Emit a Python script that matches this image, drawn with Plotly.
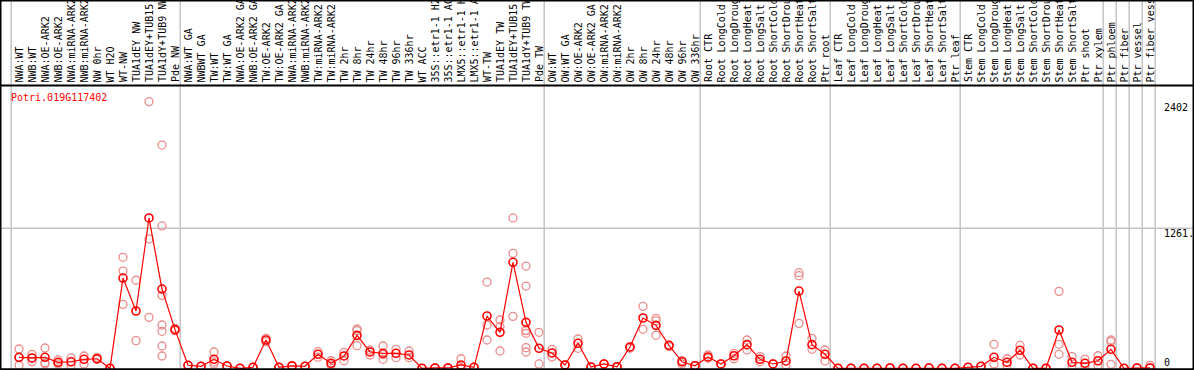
import plotly.graph_objects as go

W, H = 1194, 370

labels = [
    "NWA:WT", "NWB:WT", "NWA:OE-ARK2", "NWB:OE-ARK2", "NWA:miRNA-ARK2", "NWB:miRNA-ARK2",
    "NW 0hr", "WT H2O", "WT-NW", "TUA1dEY NW", "TUA1dEY+TUB15 NW", "TUA1dY+TUB9 NW", "Pde NW",
    "NWA:WT GA", "NWBWT GA", "TW:WT", "TW:WT GA", "NWA:OE-ARK2 GA", "NWB:OE-ARK2 GA",
    "TW:OE-ARK2", "TW:OE-ARK2 GA", "NWA:miRNA-ARK2", "NWB:miRNA-ARK2", "TW:miRNA-ARK2",
    "TW:miRNA-ARK2", "TW 2hr", "TW 8hr", "TW 24hr", "TW 48hr", "TW 96hr", "TW 336hr",
    "WT ACC", "35S::etr1-1 H2O", "35S::etr1-1 ACC", "LMX5::etr1-1 H2O", "LMX5::etr1-1 ACC",
    "WT-TW", "TUA1dEY TW", "TUA1dEY+TUB15 TW", "TUA1dY+TUB9 TW", "Pde TW",
    "OW:WT", "OW:WT GA", "OW:OE-ARK2", "OW:OE-ARK2 GA", "OW:miRNA-ARK2", "OW:miRNA-ARK2",
    "OW 2hr", "OW 8hr", "OW 24hr", "OW 48hr", "OW 96hr", "OW 336hr",
    "Root CTR", "Root LongCold", "Root LongDrought", "Root LongHeat", "Root LongSalt",
    "Root ShortCold", "Root ShortDrought", "Root ShortHeat", "Root ShortSalt", "Ptr root",
    "Leaf CTR", "Leaf LongCold", "Leaf LongDrought", "Leaf LongHeat", "Leaf LongSalt",
    "Leaf ShortCold", "Leaf ShortDrought", "Leaf ShortHeat", "Leaf ShortSalt", "Ptr leaf",
    "Stem CTR", "Stem LongCold", "Stem LongDrought", "Stem LongHeat", "Stem LongSalt",
    "Stem ShortCold", "Stem ShortDrought", "Stem ShortHeat", "Stem ShortSalt",
    "Ptr shoot", "Ptr xylem", "Ptr phloem", "Ptr fiber", "Ptr vessel", "Ptr fiber vessel",
]

means = [
    99, 93, 99, 54, 59, 81, 86, 0, 813, 516, 1354, 714, 348,
    27, 18, 81, 21, 0, 9, 255, 9, 21, 18, 126, 45, 111, 297, 147, 135, 135, 120,
    0, 3, 3, 30, 9, 471, 324, 955, 414, 180,
    138, 30, 225, 12, 39, 14, 192, 453, 387, 207, 59, 23,
    102, 39, 113, 213, 81, 39, 66, 696, 213, 126,
    0, 0, 0, 0, 3, 0, 0, 3, 0, 0,
    9, 18, 99, 54, 162, 0, 0, 345, 54, 45,
    68, 171, 0, 3, 3,
]

replicates = [
    [174, 27, 96], [59, 93, 126], [183, 50, 39], [75, 39], [93, 27], [111, 39], [99, 81],
    [0, 0], [1000, 876, 576], [793, 249], [2402, 1165, 459],
    [2011, 1282, 657, 390, 333, 201, 111], [339, 360],
    [27, 27], [18, 18], [147, 39, 57], [21, 21], [0, 0], [9, 9], [270, 240], [9, 9],
    [21, 27], [18, 18], [150, 100], [68, 30], [144, 68], [354, 339, 204], [165, 120],
    [201, 81, 123], [171, 96], [156, 96],
    [0, 0], [3, 3], [3, 3], [86, 0, 5], [9, 9], [777, 390, 255], [435, 375, 156],
    [1354, 1036, 468], [921, 741, 342, 339, 315, 186, 147], [324, 39],
    [171, 102], [30, 30], [264, 180], [12, 12], [39, 39], [14, 14], [192, 180],
    [558, 351], [450, 429, 297], [207, 195], [39, 70], [23, 23],
    [120, 90], [39, 39], [135, 86], [255, 165], [105, 59], [39, 39], [111, 30],
    [861, 834, 405], [270, 171], [165, 66],
    [0, 0], [0, 0], [0, 0], [0, 0], [3, 3], [0, 0], [0, 0], [3, 3], [0, 0], [0, 0],
    [9, 9], [18, 18], [216, 39], [86, 30], [207, 120], [0, 0], [0, 0],
    [693, 216, 126], [105, 14], [81, 18],
    [113, 27], [255, 240, 36], [0, 0], [3, 3], [27, 3],
]

group_last = [-1, 12, 40, 52, 62, 72, 83, 84, 85, 86, 87]

gene = "Potri.019G117402"
ytick_vals = [2402, 1261, 0]
ytick_text = ["2402", "1261.", "0"]
ytick_anchor = ["top", "top", "bottom"]
ytick_shift = [2, 2, -2]

# pixel geometry
X0, DX = 19.0, 13.0          # pixel x of first column, spacing
Y0PX, UNIT_PER_PX = 368.3, 1261 / 140.0
xr = [(0 - X0) / DX, (W - X0) / DX]
yr = [(Y0PX - H) * UNIT_PER_PX, Y0PX * UNIT_PER_PX]

def py(p):  # pixel-from-top -> paper y
    return 1 - p / H

def px(p):
    return p / W

xs = list(range(len(labels)))
rx, ry = [], []
for i, vals in enumerate(replicates):
    for v in vals:
        rx.append(i)
        ry.append(v)

fig = go.Figure()
fig.add_trace(go.Scatter(
    x=rx, y=ry, mode="markers", hoverinfo="skip",
    marker=dict(symbol="circle-open", size=8, color="#ec8c8c", line=dict(width=1.3, color="#ec8c8c")),
))
fig.add_trace(go.Scatter(
    x=xs, y=means, mode="lines+markers",
    line=dict(color="#ff0000", width=1.2),
    marker=dict(symbol="circle-open", size=8, color="#ff0000", line=dict(width=1.6, color="#ff0000")),
))

shapes = []
for g in group_last:
    shapes.append(dict(type="line", xref="x", yref="paper", x0=g + 0.4, x1=g + 0.4, y0=0, y1=1,
                       line=dict(color="#c4c4c4", width=1.5), layer="below"))
shapes.append(dict(type="line", xref="paper", yref="y", x0=0, x1=1, y0=1261, y1=1261,
                   line=dict(color="#c4c4c4", width=1.5), layer="below"))
black = dict(color="#000000", width=2)
shapes += [
    dict(type="line", xref="paper", yref="paper", x0=0, x1=1, y0=py(0.5), y1=py(0.5), line=black),
    dict(type="line", xref="paper", yref="paper", x0=0, x1=1, y0=py(85.5), y1=py(85.5), line=black),
    dict(type="line", xref="paper", yref="paper", x0=0, x1=1, y0=py(369.3), y1=py(369.3), line=black),
    dict(type="line", xref="paper", yref="paper", x0=px(0.5), x1=px(0.5), y0=0, y1=1, line=black),
    dict(type="line", xref="paper", yref="paper", x0=px(1193.5), x1=px(1193.5), y0=0, y1=1, line=black),
]

mono = "DejaVu Sans Mono"
ann = []
for i, lab in enumerate(labels):
    ann.append(dict(x=i, xref="x", y=py(84.5), yref="paper", text=lab, showarrow=False,
                    textangle=-90, xanchor="center", yanchor="bottom",
                    font=dict(family=mono, size=10, color="#000000")))
ann.append(dict(x=px(9), xref="paper", y=py(97), yref="paper", text=gene, showarrow=False,
                xanchor="left", yanchor="middle", font=dict(family=mono, size=10, color="#ff0000")))
for v, t, a, s in zip(ytick_vals, ytick_text, ytick_anchor, ytick_shift):
    ann.append(dict(x=px(1162), xref="paper", y=v, yref="y", text=t, showarrow=False,
                    xanchor="left", yanchor=a, yshift=s,
                    font=dict(family=mono, size=10, color="#000000")))

fig.update_layout(
    width=W, height=H, margin=dict(l=0, r=0, t=0, b=0),
    paper_bgcolor="white", plot_bgcolor="white", showlegend=False,
    xaxis=dict(visible=False, range=xr, fixedrange=True),
    yaxis=dict(visible=False, range=yr, fixedrange=True),
    shapes=shapes, annotations=ann,
)
fig.write_html(
    "out.html",
    config={"displayModeBar": False},
    post_script="document.body.style.margin='0';document.body.style.overflow='hidden';",
)
